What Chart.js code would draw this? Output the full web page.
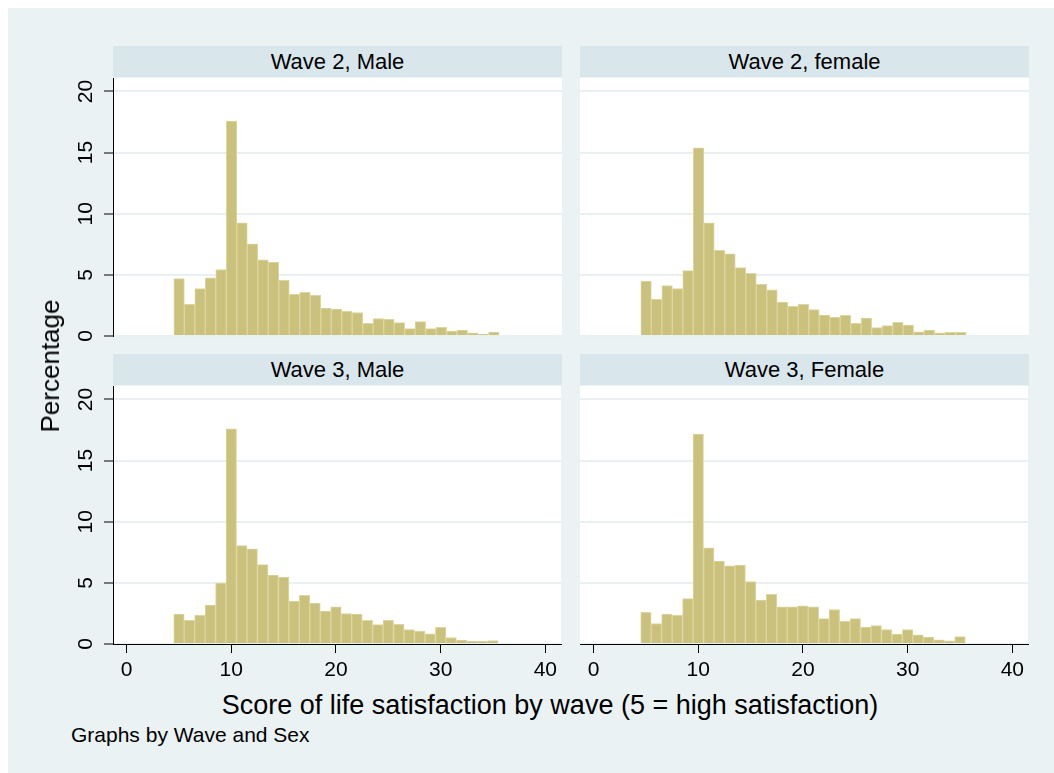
<!DOCTYPE html>
<html>
<head>
<meta charset="utf-8">
<script src="https://cdn.jsdelivr.net/npm/chart.js@4.4.0/dist/chart.umd.min.js"></script>
<style>
  html, body { margin: 0; padding: 0; }
  body { width: 1054px; height: 773px; overflow: hidden; position: relative; background: #ffffff;
         font-family: "Liberation Sans", Arial, sans-serif; color: #000; }
  #bg { position: absolute; left: 8px; top: 8px; width: 1046px; height: 765px; background: #eaf2f3; }
  .hdr { position: absolute; height: 31px; line-height: 31px; background: #d9e6eb; text-align: center;
         font-size: 22px; white-space: nowrap; }
  canvas { position: absolute; }
  .txt { position: absolute; white-space: nowrap; line-height: 1; }
</style>
</head>
<body>
<div id="bg"></div>

<div class="hdr" style="left:113px; top:46px; width:449px;">Wave 2, Male</div>
<div class="hdr" style="left:580px; top:46px; width:449px;">Wave 2, female</div>
<div class="hdr" style="left:113px; top:354px; width:449px;">Wave 3, Male</div>
<div class="hdr" style="left:580px; top:354px; width:449px;">Wave 3, Female</div>

<canvas id="c1" width="502" height="270" style="left:60px; top:78px;"></canvas>
<canvas id="c2" width="449" height="270" style="left:580px; top:78px;"></canvas>
<canvas id="c3" width="502" height="304" style="left:60px; top:386px;"></canvas>
<canvas id="c4" width="449" height="304" style="left:580px; top:386px;"></canvas>

<div class="txt" style="left:50px; top:366px; font-size:26px; transform: translate(-50%,-50%) rotate(-90deg);">Percentage</div>
<div class="txt" style="left:550px; top:692px; font-size:27px; transform: translateX(-50%);">Score of life satisfaction by wave (5 = high satisfaction)</div>
<div class="txt" style="left:71px; top:724px; font-size:21px;">Graphs by Wave and Sex</div>

<script>
// ---------------- data ----------------
const scores = [5, 6, 7, 8, 9, 10, 11, 12, 13, 14, 15, 16, 17, 18, 19, 20,
                21, 22, 23, 24, 25, 26, 27, 28, 29, 30, 31, 32, 33, 34, 35];

const wave2Male   = [4.69, 2.59, 3.87, 4.75, 5.43, 17.57, 9.25, 7.53, 6.22, 6.03, 4.56, 3.41, 3.57, 3.33, 2.29, 2.21,
                     2.02, 1.91, 1.04, 1.42, 1.36, 1.09, 0.60, 1.17, 0.60, 0.71, 0.41, 0.49, 0.25, 0.14, 0.33];
const wave2Female = [4.50, 3.00, 4.12, 3.87, 5.35, 15.39, 9.25, 7.01, 6.71, 5.59, 5.13, 4.23, 3.77, 2.78, 2.43, 2.59,
                     2.16, 1.72, 1.53, 1.69, 1.04, 1.47, 0.68, 0.85, 1.12, 0.90, 0.35, 0.49, 0.25, 0.30, 0.30];
const wave3Male   = [2.45, 1.93, 2.34, 3.19, 4.99, 17.60, 8.04, 7.79, 6.49, 5.64, 5.48, 3.51, 3.98, 3.35, 2.70, 3.05,
                     2.48, 2.45, 1.93, 1.58, 1.93, 1.61, 1.17, 1.06, 0.84, 1.36, 0.52, 0.33, 0.22, 0.22, 0.27];
const wave3Female = [2.59, 1.66, 2.45, 2.34, 3.71, 17.17, 7.87, 6.78, 6.40, 6.46, 5.10, 3.60, 4.06, 3.05, 3.05, 3.13,
                     3.05, 2.07, 2.81, 1.85, 2.07, 1.39, 1.50, 1.17, 0.82, 1.17, 0.74, 0.57, 0.35, 0.25, 0.60];

const xTicks = [0, 10, 20, 30, 40];
const yTicks = [0, 5, 10, 15, 20];

// ---------------- styling ----------------
const FONT = '"Liberation Sans", Arial, sans-serif';
Chart.defaults.font.family = FONT;
Chart.defaults.color = '#000';

const BAR_FILL = '#cac27c';
const BAR_EDGE = '#ddd6a0';
const GRID = '#e8f0f2';

const plotBgPlugin = {
  id: 'plotBg',
  beforeDraw(chart) {
    const a = chart.chartArea, ctx = chart.ctx;
    ctx.save();
    ctx.fillStyle = '#ffffff';
    ctx.fillRect(a.left, a.top, a.right - a.left, a.bottom - a.top);
    ctx.restore();
  }
};

const yLabelPlugin = {
  id: 'yRotLabels',
  afterDraw(chart, args, opts) {
    if (!opts.show) return;
    const s = chart.scales.y, ctx = chart.ctx;
    ctx.save();
    ctx.font = '21px ' + FONT;
    ctx.fillStyle = '#000';
    ctx.textAlign = 'center';
    ctx.textBaseline = 'middle';
    s.ticks.forEach(t => {
      const y = s.getPixelForValue(t.value);
      ctx.save();
      ctx.translate(chart.chartArea.left - 27, y);
      ctx.rotate(-Math.PI / 2);
      ctx.fillText(String(t.value), 0, 0);
      ctx.restore();
    });
    ctx.restore();
  }
};

function makePanel(id, values, showY, showX) {
  const ctx = document.getElementById(id).getContext('2d');
  return new Chart(ctx, {
    type: 'bar',
    data: {
      datasets: [{
        data: scores.map((s, i) => ({ x: s, y: values[i] })),
        backgroundColor: BAR_FILL,
        borderColor: BAR_EDGE,
        borderWidth: 1,
        barPercentage: 1,
        categoryPercentage: 1
      }]
    },
    options: {
      responsive: false,
      animation: false,
      devicePixelRatio: 1,
      layout: { padding: { left: 0, right: 0, top: 0, bottom: showX ? 0 : 12 } },
      plugins: {
        legend: { display: false },
        tooltip: { enabled: false },
        title: { display: false },
        yRotLabels: { show: showY }
      },
      scales: {
        x: {
          type: 'linear',
          min: -1.3,
          max: 41.5,
          offset: false,
          display: showX,
          afterBuildTicks: s => { s.ticks = xTicks.map(v => ({ value: v })); },
          afterFit: s => { s.height = showX ? 46 : 0; },
          grid: { display: true, offset: false, drawOnChartArea: false, drawTicks: true,
                  tickLength: 9, tickColor: '#000', tickWidth: 1 },
          border: { display: true, color: '#000', width: 1 },
          ticks: { font: { size: 21 }, color: '#000', padding: 5, maxRotation: 0, autoSkip: false }
        },
        y: {
          type: 'linear',
          min: 0,
          max: 21.1,
          display: true,
          afterBuildTicks: s => { s.ticks = yTicks.map(v => ({ value: v })); },
          afterFit: s => { s.width = showY ? 53 : 0; },
          grid: { display: true, color: GRID, lineWidth: 2, drawOnChartArea: true,
                  drawTicks: showY, tickLength: 9, tickColor: '#000', tickWidth: 1 },
          border: { display: showY, color: '#000', width: 1 },
          ticks: { display: false }
        }
      }
    },
    plugins: [plotBgPlugin, yLabelPlugin]
  });
}

makePanel('c1', wave2Male, true, false);
makePanel('c2', wave2Female, false, false);
makePanel('c3', wave3Male, true, true);
makePanel('c4', wave3Female, false, true);
</script>
</body>
</html>
